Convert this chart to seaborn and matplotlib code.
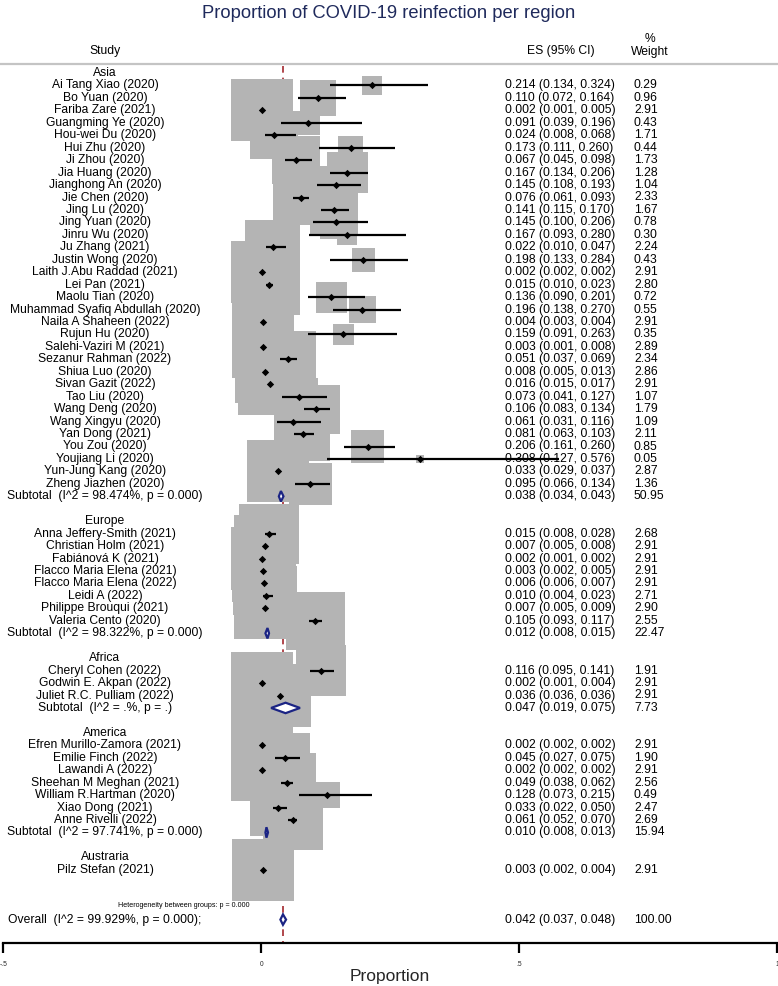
import numpy as np
import pandas as pd
import matplotlib
matplotlib.use("Agg")
import matplotlib.pyplot as plt
from matplotlib.patches import Rectangle, Polygon
from matplotlib.lines import Line2D
import seaborn as sns

# ---------------- data ----------------
regions = ["Asia", "Europe", "Africa", "America", "Austraria"]

asia_studies = ["Ai Tang Xiao (2020)", "Bo Yuan (2020)", "Fariba Zare (2021)", "Guangming Ye (2020)",
                "Hou-wei Du (2020)", "Hui Zhu (2020)", "Ji Zhou (2020)", "Jia Huang (2020)",
                "Jianghong An (2020)", "Jie Chen (2020)", "Jing Lu (2020)", "Jing Yuan (2020)",
                "Jinru Wu (2020)", "Ju Zhang (2021)", "Justin Wong (2020)", "Laith J.Abu Raddad (2021)",
                "Lei Pan (2021)", "Maolu Tian (2020)", "Muhammad Syafiq Abdullah (2020)",
                "Naila A Shaheen (2022)", "Rujun Hu (2020)", "Salehi-Vaziri M (2021)",
                "Sezanur Rahman (2022)", "Shiua Luo (2020)", "Sivan Gazit (2022)", "Tao Liu (2020)",
                "Wang Deng (2020)", "Wang Xingyu (2020)", "Yan Dong (2021)", "You Zou (2020)",
                "Youjiang Li (2020)", "Yun-Jung Kang (2020)", "Zheng Jiazhen (2020)"]
asia_es = [0.214, 0.110, 0.002, 0.091, 0.024, 0.173, 0.067, 0.167, 0.145, 0.076, 0.141, 0.145,
           0.167, 0.022, 0.198, 0.002, 0.015, 0.136, 0.196, 0.004, 0.159, 0.003, 0.051, 0.008,
           0.016, 0.073, 0.106, 0.061, 0.081, 0.206, 0.308, 0.033, 0.095]
asia_lo = [0.134, 0.072, 0.001, 0.039, 0.008, 0.111, 0.045, 0.134, 0.108, 0.061, 0.115, 0.100,
           0.093, 0.010, 0.133, 0.002, 0.010, 0.090, 0.138, 0.003, 0.091, 0.001, 0.037, 0.005,
           0.015, 0.041, 0.083, 0.031, 0.063, 0.161, 0.127, 0.029, 0.066]
asia_hi = [0.324, 0.164, 0.005, 0.196, 0.068, 0.260, 0.098, 0.206, 0.193, 0.093, 0.170, 0.206,
           0.280, 0.047, 0.284, 0.002, 0.023, 0.201, 0.270, 0.004, 0.263, 0.008, 0.069, 0.013,
           0.017, 0.127, 0.134, 0.116, 0.103, 0.260, 0.576, 0.037, 0.134]
asia_w = [0.29, 0.96, 2.91, 0.43, 1.71, 0.44, 1.73, 1.28, 1.04, 2.33, 1.67, 0.78, 0.30, 2.24, 0.43,
          2.91, 2.80, 0.72, 0.55, 2.91, 0.35, 2.89, 2.34, 2.86, 2.91, 1.07, 1.79, 1.09, 2.11, 0.85,
          0.05, 2.87, 1.36]

europe_studies = ["Anna Jeffery-Smith (2021)", "Christian Holm (2021)", "Fabiánová K (2021)",
                  "Flacco Maria Elena (2021)", "Flacco Maria Elena (2022)", "Leidi A (2022)",
                  "Philippe Brouqui (2021)", "Valeria Cento (2020)"]
europe_es = [0.015, 0.007, 0.002, 0.003, 0.006, 0.010, 0.007, 0.105]
europe_lo = [0.008, 0.005, 0.001, 0.002, 0.006, 0.004, 0.005, 0.093]
europe_hi = [0.028, 0.008, 0.002, 0.005, 0.007, 0.023, 0.009, 0.117]
europe_w = [2.68, 2.91, 2.91, 2.91, 2.91, 2.71, 2.90, 2.55]

africa_studies = ["Cheryl Cohen (2022)", "Godwin E. Akpan (2022)", "Juliet R.C. Pulliam (2022)"]
africa_es = [0.116, 0.002, 0.036]
africa_lo = [0.095, 0.001, 0.036]
africa_hi = [0.141, 0.004, 0.036]
africa_w = [1.91, 2.91, 2.91]

america_studies = ["Efren Murillo-Zamora (2021)", "Emilie Finch (2022)", "Lawandi A (2022)",
                   "Sheehan M Meghan (2021)", "William R.Hartman (2020)", "Xiao Dong (2021)",
                   "Anne Rivelli (2022)"]
america_es = [0.002, 0.045, 0.002, 0.049, 0.128, 0.033, 0.061]
america_lo = [0.002, 0.027, 0.002, 0.038, 0.073, 0.022, 0.052]
america_hi = [0.002, 0.075, 0.002, 0.062, 0.215, 0.050, 0.070]
america_w = [2.91, 1.90, 2.91, 2.56, 0.49, 2.47, 2.69]

austraria_studies = ["Pilz Stefan (2021)"]
austraria_es = [0.003]
austraria_lo = [0.002]
austraria_hi = [0.004]
austraria_w = [2.91]

subtotal_labels = ["Subtotal  (I^2 = 98.474%, p = 0.000)", "Subtotal  (I^2 = 98.322%, p = 0.000)",
                   "Subtotal  (I^2 = .%, p = .)", "Subtotal  (I^2 = 97.741%, p = 0.000)", None]
subtotal_es = [0.038, 0.012, 0.047, 0.010, None]
subtotal_lo = [0.034, 0.008, 0.019, 0.008, None]
subtotal_hi = [0.043, 0.015, 0.075, 0.013, None]
subtotal_w = [50.95, 22.47, 7.73, 15.94, None]

overall_label = "Overall  (I^2 = 99.929%, p = 0.000);"
overall_es, overall_lo, overall_hi, overall_w = 0.042, 0.037, 0.048, 100.00
heterogeneity_text = "Heterogeneity between groups: p = 0.000"

xticks = [-0.5, 0, 0.5, 1]
xtick_labels = ["-.5", "0", ".5", "1"]

title = "Proportion of COVID-19 reinfection per region"
xlabel = "Proportion"

# ---------------- assemble rows ----------------
groups = [
    (asia_studies, asia_es, asia_lo, asia_hi, asia_w),
    (europe_studies, europe_es, europe_lo, europe_hi, europe_w),
    (africa_studies, africa_es, africa_lo, africa_hi, africa_w),
    (america_studies, america_es, america_lo, america_hi, america_w),
    (austraria_studies, austraria_es, austraria_lo, austraria_hi, austraria_w),
]

study_rows, header_rows, sub_rows = [], [], []
row = 0
for gi, (names, es, lo, hi, w) in enumerate(groups):
    header_rows.append((regions[gi], row))
    for k in range(len(names)):
        study_rows.append(dict(label=names[k], es=es[k], lo=lo[k], hi=hi[k], w=w[k], row=row + 1 + k))
    last = row + len(names)
    if subtotal_labels[gi] is not None:
        sub_rows.append(dict(label=subtotal_labels[gi], es=subtotal_es[gi], lo=subtotal_lo[gi],
                             hi=subtotal_hi[gi], w=subtotal_w[gi], row=last + 1))
        last += 1
    row = last + 2
last_row = study_rows[-1]["row"]
overall_row = last_row + 4
het_row = overall_row - 1.12
df = pd.DataFrame(study_rows)

# ---------------- figure / layout ----------------
W, H = 778, 986
PX_X0, PX_PER_X = 261.3, 516.0       # pixel of x=0, pixels per unit
ROW0_PX, PX_PER_ROW = 73.0, 12.45    # pixel of row 0, pixels per row
AXIS_PX = 943.0

sns.set_style("white")
plt.rcParams["font.family"] = ["Liberation Sans", "DejaVu Sans"]

fig = plt.figure(figsize=(W / 100, H / 100), dpi=100)
left_px = PX_X0 - 0.5 * PX_PER_X
right_px = PX_X0 + 1.0 * PX_PER_X
ax = fig.add_axes([left_px / W, (H - AXIS_PX) / H, (right_px - left_px) / W, AXIS_PX / H])
ax.set_xlim(-0.5, 1.0)
bottom_row = (AXIS_PX - ROW0_PX) / PX_PER_ROW
top_row = -ROW0_PX / PX_PER_ROW
ax.set_ylim(bottom_row, top_row)

for s in ["top", "left", "right"]:
    ax.spines[s].set_visible(False)
ax.spines["bottom"].set_linewidth(1.6)
ax.spines["bottom"].set_color("black")

pxx = 1.0 / PX_PER_X
pxy = 1.0 / PX_PER_ROW
BOX_K = 36.5  # pixels per sqrt(weight)

# weight boxes
for r in study_rows:
    side = BOX_K * np.sqrt(r["w"])
    wd, ht = side * pxx, side * pxy
    ax.add_patch(Rectangle((r["es"] - wd / 2, r["row"] - ht / 2), wd, ht,
                           facecolor="#b4b4b4", edgecolor="none", zorder=1, clip_on=False))

# overall reference line
ax.vlines(overall_es, -0.6, bottom_row, colors="#a3272e", linestyles=(0, (4, 3)),
          linewidth=1.2, zorder=0.5)

# confidence intervals
ax.hlines(df["row"], df["lo"], df["hi"], colors="black", linewidth=1.6, zorder=3)
# point estimates
sns.scatterplot(data=df, x="es", y="row", marker="D", color="black", s=14, linewidth=0,
                ax=ax, zorder=4, legend=False)

ax.set_yticks([])
ax.set_xticks(xticks)
ax.set_xticklabels(xtick_labels, fontsize=4.8)
ax.tick_params(axis="x", direction="out", length=7.2, width=1.6, color="black", pad=6,
               bottom=True)
ax.set_xlabel(xlabel, fontsize=12.5)
ax.set_ylabel("")
ax.xaxis.label.set_verticalalignment("center")
ax.xaxis.set_label_coords(0.5 - (left_px + (right_px - left_px) / 2 - 390) / (right_px - left_px),
                          -34.0 / AXIS_PX)

# diamonds
navy = "#1b2484"
def diamond(es, lo, hi, r):
    hh = 0.42
    ax.add_patch(Polygon([(lo, r), (es, r - hh), (hi, r), (es, r + hh)], closed=True,
                         facecolor="white", edgecolor=navy, linewidth=1.6, zorder=5))

for s_ in sub_rows:
    diamond(s_["es"], s_["lo"], s_["hi"], s_["row"])
diamond(overall_es, overall_lo, overall_hi, overall_row)

# ---------------- text ----------------
LABEL_X = (105 - PX_X0) / PX_PER_X
ES_X = (505 - PX_X0) / PX_PER_X
WT_X = (634 - PX_X0) / PX_PER_X
ES_HDR_X = (561 - PX_X0) / PX_PER_X
WT_HDR_X = (650 - PX_X0) / PX_PER_X
FS = 8.7

def row_text(x, r, s, ha="center", fs=FS):
    ax.text(x, r, s, ha=ha, va="center", fontsize=fs, color="black", zorder=6, clip_on=False)

for name, r in header_rows:
    row_text(LABEL_X, r, name)
for r in study_rows:
    row_text(LABEL_X, r["row"], r["label"])
    row_text(ES_X, r["row"], f"{r['es']:.3f} ({r['lo']:.3f}, {r['hi']:.3f})", ha="left")
    row_text(WT_X, r["row"], f"{r['w']:.2f}", ha="left")
for s_ in sub_rows:
    row_text(LABEL_X, s_["row"], s_["label"])
    row_text(ES_X, s_["row"], f"{s_['es']:.3f} ({s_['lo']:.3f}, {s_['hi']:.3f})", ha="left")
    row_text(WT_X, s_["row"], f"{s_['w']:.2f}", ha="left")

row_text(LABEL_X, overall_row, overall_label)
row_text(ES_X, overall_row, f"{overall_es:.3f} ({overall_lo:.3f}, {overall_hi:.3f})", ha="left")
row_text(WT_X, overall_row, f"{overall_w:.2f}", ha="left")
ax.text((184 - PX_X0) / PX_PER_X, het_row, heterogeneity_text, ha="center", va="center",
        fontsize=5.1, color="black")

# headers
def prow(py):
    return (py - ROW0_PX) / PX_PER_ROW
row_text(LABEL_X, prow(51), "Study")
row_text(ES_HDR_X, prow(51), "ES (95% CI)")
row_text(WT_HDR_X, prow(39), "%")
row_text(WT_HDR_X, prow(51.5), "Weight")

# header separator line
fig.add_artist(Line2D([0, 1], [1 - 64 / H, 1 - 64 / H], transform=fig.transFigure,
                      color="#c4c4c4", linewidth=1.6))

fig.text(0.5, 1 - 13 / H, title, ha="center", va="center", fontsize=13.2, color="#1f2a5c")

fig.savefig("out.png", dpi=100)
